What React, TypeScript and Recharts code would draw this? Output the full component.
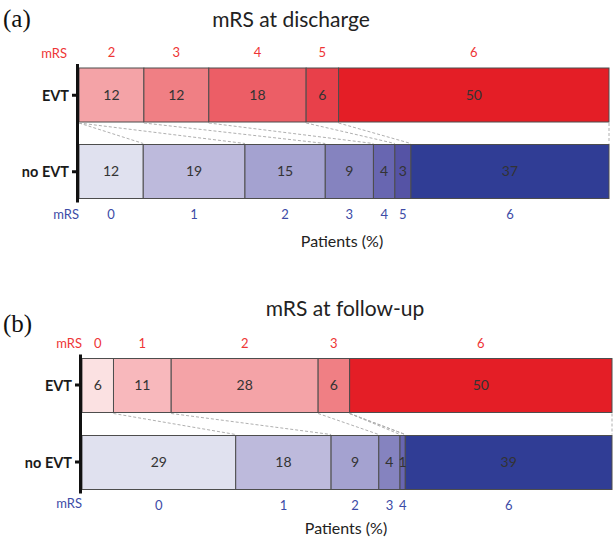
import React from 'react';
import { BarChart, Bar, XAxis, YAxis, LabelList } from 'recharts';

const categories = ['EVT', 'no EVT'];
const mrsLevels = ['0', '1', '2', '3', '4', '5', '6'];
const dischargeEVT = [0, 0, 12, 12, 18, 6, 50];
const dischargeNoEVT = [12, 19, 15, 9, 4, 3, 37];
const followupEVT = [6, 11, 28, 6, 0, 0, 50];
const followupNoEVT = [29, 18, 9, 4, 1, 0, 39];
const redShades = ['#fbe1e2', '#f8b8bc', '#f4a3a7', '#f07f84', '#ec5e66', '#e8404a', '#e41e26'];
const blueShades = ['#e0e1ef', '#bdbadc', '#a4a2d0', '#8583bf', '#6866b1', '#5553a5', '#303d95'];

const RED_TEXT = '#ee3535';
const BLUE_TEXT = '#3c4ba6';
const FONT = 'Lato, "Open Sans", sans-serif';
const BAR_SIZE = 54;

const sum = (a: number[]) => a.reduce((s, v) => s + v, 0);

function buildRows(evt: number[], noEvt: number[]) {
  return categories.map((name, r) => {
    const src = r === 0 ? evt : noEvt;
    const row: any = { name };
    mrsLevels.forEach((m, i) => {
      row['m' + m] = src[i];
    });
    return row;
  });
}

type PanelCfg = {
  evt: number[];
  noEvt: number[];
  top: number;
  height: number;
  marginTop: number;
  marginBottom: number;
  axisWidth: number;
  marginRight: number;
};

const makeShape = (k: number, cfg: PanelCfg) => (props: any) => {
  const { x, y, width, height, payload } = props;
  const isEvt = payload && payload.name === 'EVT';
  const val = (isEvt ? cfg.evt : cfg.noEvt)[k];
  const els: any[] = [];
  if (val > 0 && width > 0) {
    els.push(
      <rect key="r" x={x} y={y} width={width} height={height}
        fill={isEvt ? redShades[k] : blueShades[k]} stroke="#4d4d4d" strokeWidth={1} />
    );
    els.push(
      <text key="m" x={x + width / 2} y={isEvt ? y - 16 : y + height + 15}
        textAnchor="middle" dominantBaseline="central" fontSize={13} fontFamily={FONT}
        fill={isEvt ? RED_TEXT : BLUE_TEXT}>{mrsLevels[k]}</text>
    );
  }
  if (isEvt && k === mrsLevels.length - 1) {
    const totalE = sum(cfg.evt);
    const totalN = sum(cfg.noEvt);
    const plotRight = x + width;
    const plotWidth = width / (cfg.evt[k] / totalE);
    const plotLeft = plotRight - plotWidth;
    const bottom = y + height;
    const plotH = cfg.height - cfg.marginTop - cfg.marginBottom;
    const nextTop = bottom + (plotH / 2 - BAR_SIZE);
    let ce = 0;
    let cn = 0;
    for (let i = 0; i < mrsLevels.length; i++) {
      ce += cfg.evt[i];
      cn += cfg.noEvt[i];
      const x1 = plotLeft + (ce / totalE) * plotWidth;
      const x2 = plotLeft + (cn / totalN) * plotWidth;
      els.push(
        <line key={'c' + i} x1={x1} y1={bottom + 1} x2={x2} y2={nextTop - 1}
          stroke="#b0b0b0" strokeWidth={1} strokeDasharray="3 2" />
      );
    }
    els.push(
      <line key="axis" x1={plotLeft - 1.5} y1={y - 4} x2={plotLeft - 1.5}
        y2={nextTop + BAR_SIZE + 4} stroke="#111" strokeWidth={3} />
    );
  }
  return <g>{els}</g>;
};

const YTick = (props: any) => {
  const { x, y, payload } = props;
  return (
    <text x={x} y={y} textAnchor="end" dominantBaseline="central" fontWeight="bold"
      fontSize={14.5} fontFamily={FONT} fill="#1a1a1a">{payload.value}</text>
  );
};

function Panel({ cfg }: { cfg: PanelCfg }) {
  const rows = buildRows(cfg.evt, cfg.noEvt);
  return (
    <div style={{ position: 'absolute', left: 0, top: cfg.top }}>
      <BarChart width={616} height={cfg.height} data={rows} layout="vertical" stackOffset="expand"
        margin={{ top: cfg.marginTop, right: cfg.marginRight, bottom: cfg.marginBottom, left: 0 }}>
        <XAxis type="number" hide />
        <YAxis type="category" dataKey="name" width={cfg.axisWidth} axisLine={false}
          tickLine={{ stroke: '#111', strokeWidth: 3 }} tickSize={7} tickMargin={3} tick={<YTick />} />
        {mrsLevels.map((m, k) => (
          <Bar key={m} dataKey={'m' + m} stackId="s" barSize={BAR_SIZE} isAnimationActive={false}
            shape={makeShape(k, cfg)}>
            <LabelList dataKey={'m' + m} position="center" fill="#333" fontSize={14} fontFamily={FONT}
              formatter={(v: any) => (Number(v) > 0 ? v : '')} />
          </Bar>
        ))}
      </BarChart>
    </div>
  );
}

const Txt = ({ x, y, children, anchor = 'center', style = {} }: any) => (
  <div style={{
    position: 'absolute', left: x, top: y, whiteSpace: 'nowrap', lineHeight: 1,
    transform: `translate(${anchor === 'center' ? '-50%' : anchor === 'end' ? '-100%' : '0'}, -50%)`,
    fontFamily: FONT, ...style,
  }}>{children}</div>
);

const panelA: PanelCfg = {
  evt: dischargeEVT, noEvt: dischargeNoEVT, top: 0, height: 250,
  marginTop: 57, marginBottom: 40, axisWidth: 79, marginRight: 7,
};
const panelB: PanelCfg = {
  evt: followupEVT, noEvt: followupNoEVT, top: 290, height: 250,
  marginTop: 56.5, marginBottom: 39.5, axisWidth: 82, marginRight: 4,
};

export default function App() {
  return (
    <div style={{ position: 'absolute', left: 0, top: 0, width: 616, height: 540, background: '#fff', overflow: 'hidden' }}>
      <Panel cfg={panelA} />
      <Panel cfg={panelB} />
      <Txt x={3} y={18} anchor="start" style={{ fontFamily: '"Liberation Serif", serif', fontSize: 25, color: '#111' }}>(a)</Txt>
      <Txt x={291} y={18} style={{ fontSize: 21, color: '#222' }}>mRS at discharge</Txt>
      <Txt x={67} y={53} anchor="end" style={{ fontSize: 13, color: RED_TEXT }}>mRS</Txt>
      <Txt x={79} y={214} anchor="end" style={{ fontSize: 13, color: BLUE_TEXT }}>mRS</Txt>
      <Txt x={342} y={241} style={{ fontSize: 16, color: '#222' }}>Patients (%)</Txt>

      <Txt x={3} y={323} anchor="start" style={{ fontFamily: '"Liberation Serif", serif', fontSize: 25, color: '#111' }}>(b)</Txt>
      <Txt x={345} y={307} style={{ fontSize: 21, color: '#222' }}>mRS at follow-up</Txt>
      <Txt x={82} y={343} anchor="end" style={{ fontSize: 13, color: RED_TEXT }}>mRS</Txt>
      <Txt x={82} y={503} anchor="end" style={{ fontSize: 13, color: BLUE_TEXT }}>mRS</Txt>
      <Txt x={346} y={528} style={{ fontSize: 16, color: '#222' }}>Patients (%)</Txt>
    </div>
  );
}
